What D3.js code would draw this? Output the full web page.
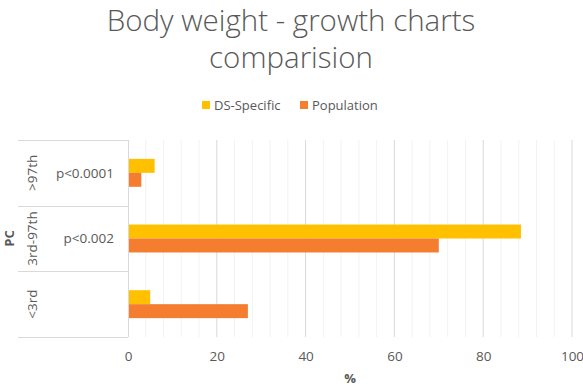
<!DOCTYPE html>
<html>
<head>
<meta charset="utf-8">
<script src="https://cdn.jsdelivr.net/npm/d3@7"></script>
<style>
  body { margin: 0; background: #fff; }
  text { font-family: "Open Sans", "Noto Sans", sans-serif; }
</style>
</head>
<body>
<svg id="chart" width="583" height="387"></svg>
<script>
// categories, top to bottom
const categories = [">97th", "3rd-97th", "<3rd"];
const pLabels = ["p<0.0001", "p<0.002", ""];
const seriesNames = ["DS-Specific", "Population"];
const dsSpecific = [6, 88.5, 5];
const population = [3, 70, 27];
const xTicks = [0, 20, 40, 60, 80, 100];

var svg = d3.select("#chart"),
    margin = { top: 140, right: 11, bottom: 50, left: 128 },
    width = +svg.attr("width") - margin.left - margin.right,
    height = +svg.attr("height") - margin.top - margin.bottom,
    g = svg.append("g").attr("transform", "translate(" + margin.left + "," + margin.top + ")");

var colors = d3.scaleOrdinal().domain(seriesNames).range(["#FFC000", "#F47D30"]);

var x = d3.scaleLinear().domain([0, 100]).range([0, width]);

var y0 = d3.scaleBand().domain(categories).range([0, height]);

var y1 = d3.scaleBand().domain(seriesNames)
    .range([0, y0.bandwidth()]).paddingOuter(1.35).paddingInner(0);

// title
svg.append("g")
    .attr("fill", "#595959")
    .attr("font-size", 29.5)
    .attr("font-weight", 300)
    .attr("text-anchor", "middle")
    .selectAll("text")
    .data(["Body weight - growth charts", "comparision"])
    .enter().append("text")
    .attr("x", 291)
    .attr("y", function (d, i) { return 31 + i * 37; })
    .text(function (d) { return d; });

// legend
var legend = svg.append("g")
    .attr("font-size", 13)
    .selectAll("g")
    .data(seriesNames)
    .enter().append("g")
    .attr("transform", function (d, i) { return "translate(" + (202 + i * 98) + ",105)"; });

legend.append("rect")
    .attr("x", 0).attr("y", -4)
    .attr("width", 8).attr("height", 8)
    .attr("fill", colors);

legend.append("text")
    .attr("x", 12)
    .attr("dy", "0.35em")
    .attr("fill", "#595959")
    .text(function (d) { return d; });

// minor gridlines
g.append("g")
    .selectAll("line")
    .data(d3.range(4, 100, 4).filter(function (v) { return v % 20 != 0; }))
    .enter().append("line")
    .attr("x1", x).attr("x2", x)
    .attr("y1", 0).attr("y2", height)
    .attr("stroke", "#f2f2f2");

// major gridlines
g.append("g")
    .selectAll("line")
    .data(xTicks.slice(1))
    .enter().append("line")
    .attr("x1", x).attr("x2", x)
    .attr("y1", 0).attr("y2", height)
    .attr("stroke", "#d9d9d9");

// bars
var rows = categories.map(function (c, i) {
    return { cat: c, values: [
        { key: seriesNames[0], value: dsSpecific[i] },
        { key: seriesNames[1], value: population[i] }
    ] };
});

g.append("g")
    .selectAll("g")
    .data(rows)
    .enter().append("g")
    .attr("transform", function (d) { return "translate(0," + y0(d.cat) + ")"; })
    .selectAll("rect")
    .data(function (d) { return d.values; })
    .enter().append("rect")
    .attr("x", x(0))
    .attr("y", function (d) { return y1(d.key); })
    .attr("width", function (d) { return x(d.value) - x(0); })
    .attr("height", y1.bandwidth())
    .attr("fill", function (d) { return colors(d.key); });

// category axis (table-like)
var catAxis = g.append("g");
catAxis.append("line")
    .attr("x1", 0.5).attr("x2", 0.5)
    .attr("y1", 0).attr("y2", height)
    .attr("stroke", "#d9d9d9");
catAxis.selectAll(".sep")
    .data(categories.concat(["end"]))
    .enter().append("line")
    .attr("class", "sep")
    .attr("x1", -110).attr("x2", 0)
    .attr("y1", function (d, i) { return Math.round(i * y0.bandwidth()) + 0.5; })
    .attr("y2", function (d, i) { return Math.round(i * y0.bandwidth()) + 0.5; })
    .attr("stroke", "#d9d9d9");

catAxis.selectAll(".plab")
    .data(pLabels)
    .enter().append("text")
    .attr("class", "plab")
    .attr("x", -14)
    .attr("y", function (d, i) { return y0(categories[i]) + y0.bandwidth() / 2; })
    .attr("dy", "0.35em")
    .attr("text-anchor", "end")
    .attr("font-size", 13.5)
    .attr("fill", "#595959")
    .text(function (d) { return d; });

catAxis.selectAll(".clab")
    .data(categories)
    .enter().append("text")
    .attr("class", "clab")
    .attr("transform", function (d) {
        return "translate(-96," + (y0(d) + y0.bandwidth() / 2) + ") rotate(-90)";
    })
    .attr("dy", "0.35em")
    .attr("text-anchor", "middle")
    .attr("font-size", 13.5)
    .attr("fill", "#595959")
    .text(function (d) { return d; });

// x axis
var xAxis = g.append("g")
    .attr("transform", "translate(0," + height + ")")
    .call(d3.axisBottom(x).tickValues(xTicks).tickSize(0).tickPadding(14));
xAxis.select(".domain").remove();
xAxis.selectAll("text")
    .attr("font-size", 13.5)
    .attr("fill", "#595959")
    .style("font-family", "'Open Sans', sans-serif");

// axis titles
svg.append("text")
    .attr("x", margin.left + width / 2)
    .attr("y", 383)
    .attr("text-anchor", "middle")
    .attr("font-size", 13)
    .attr("font-weight", "bold")
    .attr("fill", "#595959")
    .text("%");

svg.append("text")
    .attr("transform", "translate(14," + (margin.top + height / 2) + ") rotate(-90)")
    .attr("text-anchor", "middle")
    .attr("font-size", 13)
    .attr("font-weight", "bold")
    .attr("fill", "#595959")
    .text("PC");
</script>
</body>
</html>
